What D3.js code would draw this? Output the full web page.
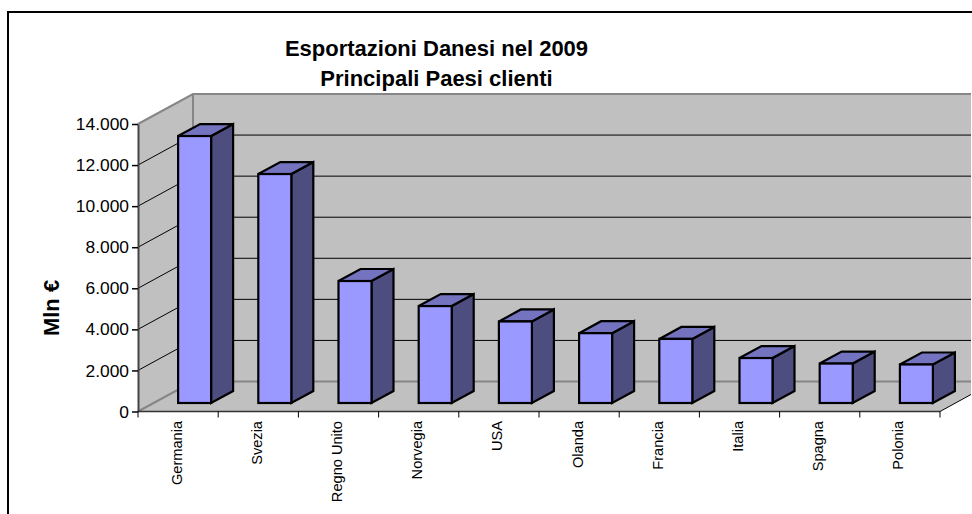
<!DOCTYPE html>
<html>
<head>
<meta charset="utf-8">
<script src="https://cdn.jsdelivr.net/npm/d3@7"></script>
<style>
  html, body { margin: 0; padding: 0; background: #fff; overflow: hidden; }
  text { font-family: "Liberation Sans", Arial, sans-serif; fill: #000; }
</style>
</head>
<body>
<div id="chart"></div>
<script>
// Dati
const categories = ["Germania", "Svezia", "Regno Unito", "Norvegia", "USA", "Olanda", "Francia", "Italia", "Spagna", "Polonia"];
const values = [13000, 11150, 5940, 4720, 3970, 3400, 3120, 2190, 1920, 1875];
const yTicks = [0, 2000, 4000, 6000, 8000, 10000, 12000, 14000];
const titleLines = ["Esportazioni Danesi nel 2009", "Principali Paesi clienti"];
const yLabel = "Mln €";

const W = 972, H = 514;
const depth = { x: 55, y: -30 };     // profondita' del pavimento
const barDepth = { x: 22, y: -12 };  // profondita' della barra
const barShift = { x: 0, y: -8.5 };  // la barra sta dentro il pavimento
const barWidth = 33;

const svg = d3.select("#chart").append("svg")
    .attr("width", W)
    .attr("height", H)
    .style("display", "block");

// Scale
const x = d3.scaleBand().domain(categories).range([138, 940]);
const y = d3.scaleLinear().domain([0, 14000]).range([411.5, 124]);

// Cornice (solo sopra e a sinistra, il resto e' tagliato)
svg.append("path")
    .attr("d", `M8,${H}V12H${W}`)
    .attr("fill", "none")
    .attr("stroke", "#000")
    .attr("stroke-width", 2);

const plot = svg.append("g");
const x0 = x.range()[0], x1 = x.range()[1];
const y0 = y(0), yTop = y(14000);

// Pareti e pavimento
plot.append("path")
    .attr("d", `M${x0 + depth.x},${yTop + depth.y}H971V${y0 + depth.y}H${x0 + depth.x}Z`)
    .attr("fill", "#c0c0c0");
plot.append("path")
    .attr("d", `M${x0},${yTop}L${x0 + depth.x},${yTop + depth.y}V${y0 + depth.y}L${x0},${y0}Z`)
    .attr("fill", "#c0c0c0");
plot.append("path")
    .attr("d", `M${x0},${y0}L${x0 + depth.x},${y0 + depth.y}H971V${y0 - 17}L${x1},${y0}Z`)
    .attr("fill", "#c0c0c0");

// Griglia
const inner = yTicks.slice(1, -1);
plot.append("g").selectAll("path")
    .data(inner)
    .join("path")
    .attr("d", d => `M${x0},${y(d)}L${x0 + depth.x},${y(d) + depth.y}H971`)
    .attr("fill", "none")
    .attr("stroke", "#000")
    .attr("stroke-width", 1);

// Bordi grigi delle pareti
plot.append("path")
    .attr("d", `M${x0},${yTop}L${x0 + depth.x},${yTop + depth.y}H971M${x0 + depth.x},${yTop + depth.y}V${y0 + depth.y}M${x0},${y0}L${x0 + depth.x},${y0 + depth.y}H971`)
    .attr("fill", "none")
    .attr("stroke", "#868686")
    .attr("stroke-width", 2);

// Bordo destro del pavimento
plot.append("path")
    .attr("d", `M${x1},${y0}L971,${y0 - 17}`)
    .attr("fill", "none")
    .attr("stroke", "#000")
    .attr("stroke-width", 1);

// Barre
const bars = plot.append("g").selectAll("g")
    .data(categories.map((c, i) => ({ c, v: values[i] })))
    .join("g")
    .attr("stroke", "#000")
    .attr("stroke-width", 2.2)
    .attr("stroke-linejoin", "miter");

const bx = d => x(d.c) + x.bandwidth() / 2;
const by = d => y(d.v) + barShift.y;
const bb = () => y(0) + barShift.y;

bars.append("path") // fianco
    .attr("fill", "#4d4d80")
    .attr("d", d => `M${bx(d) + barWidth},${by(d)}l${barDepth.x},${barDepth.y}V${bb() + barDepth.y}l${-barDepth.x},${-barDepth.y}Z`);
bars.append("path") // tetto
    .attr("fill", "#7373bf")
    .attr("d", d => `M${bx(d)},${by(d)}l${barDepth.x},${barDepth.y}h${barWidth}l${-barDepth.x},${-barDepth.y}Z`);
bars.append("rect") // fronte
    .attr("fill", "#9999ff")
    .attr("x", bx)
    .attr("y", by)
    .attr("width", barWidth)
    .attr("height", d => bb() - by(d));

// Asse Y
const yAxis = svg.append("g")
    .attr("transform", `translate(${x0},0)`)
    .call(d3.axisLeft(y)
        .tickValues(yTicks)
        .tickSize(6)
        .tickSizeOuter(0)
        .tickPadding(3)
        .tickFormat(d => d3.format(",")(d).replace(/,/g, ".")));
yAxis.select(".domain").attr("stroke", "#444").attr("stroke-width", 2);
yAxis.selectAll("line").attr("stroke", "#000").attr("stroke-width", 1.5);
yAxis.selectAll("text").style("font-size", "17.4px").attr("fill", "#000");

// Asse X: le tacche stanno tra le categorie
const xAxis = svg.append("g");
xAxis.append("path")
    .attr("d", `M${x0},${y0}H${x1}`)
    .attr("stroke", "#333")
    .attr("stroke-width", 1.5);
xAxis.selectAll("line")
    .data(categories.map(c => x(c)).concat([x1]))
    .join("line")
    .attr("x1", d => d).attr("x2", d => d)
    .attr("y1", y0).attr("y2", y0 + 6)
    .attr("stroke", "#000");
xAxis.selectAll("text")
    .data(categories)
    .join("text")
    .attr("transform", d => `translate(${x(d) + x.bandwidth() / 2 + 3.5},421) rotate(-90)`)
    .attr("text-anchor", "end")
    .style("font-size", "14.6px")
    .text(d => d);

// Titolo
svg.selectAll(".title")
    .data(titleLines)
    .join("text")
    .attr("class", "title")
    .attr("x", 436.5)
    .attr("y", (d, i) => 56 + i * 29.5)
    .attr("text-anchor", "middle")
    .style("font-size", "22px")
    .style("font-weight", "bold")
    .text(d => d);

// Etichetta asse Y
svg.append("text")
    .attr("transform", "translate(59,308) rotate(-90)")
    .attr("text-anchor", "middle")
    .style("font-size", "22px")
    .style("font-weight", "bold")
    .text(yLabel);
</script>
</body>
</html>
